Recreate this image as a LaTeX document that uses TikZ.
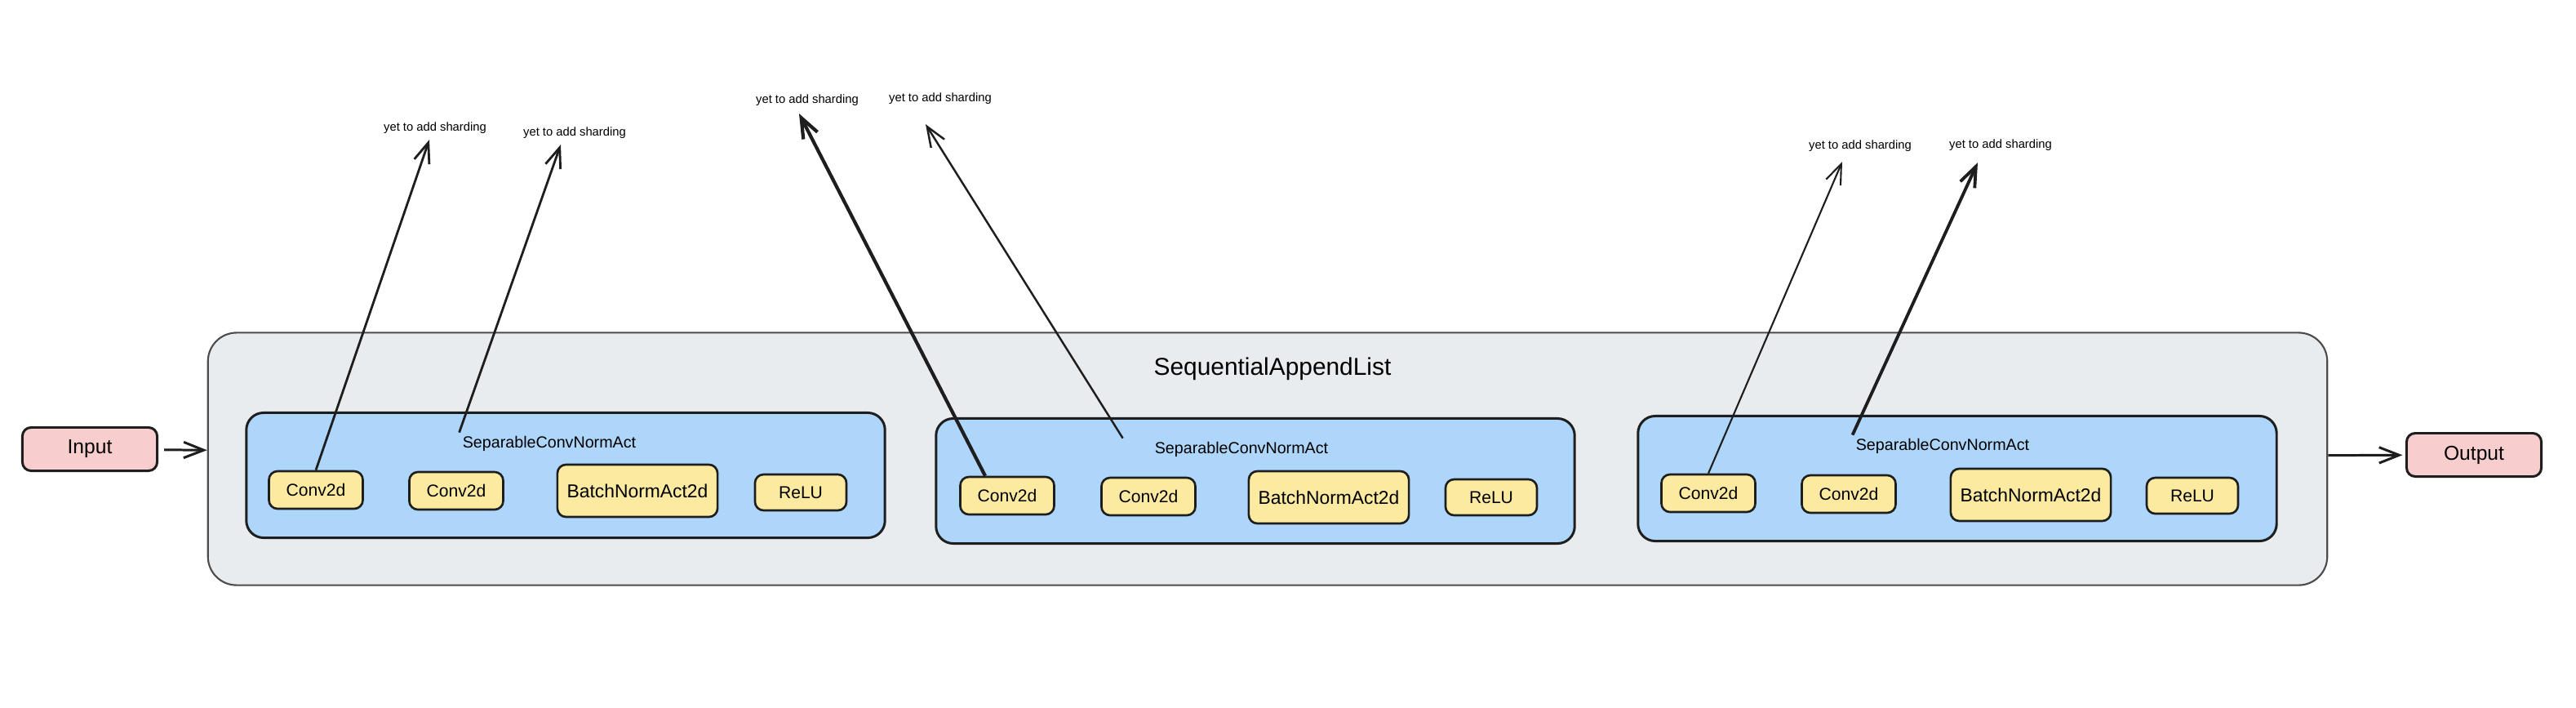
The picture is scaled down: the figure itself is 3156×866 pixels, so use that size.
\documentclass[tikz,border=0pt]{standalone}
\usepackage{fontspec}
\setmainfont{Liberation Sans}
\usetikzlibrary{arrows.meta}
\tikzset{>={Straight Barb[length=7pt, width=5.5pt]}}
\definecolor{colorink}{RGB}{30,30,30}
\definecolor{colorpink}{RGB}{247,205,205}
\definecolor{colorblue}{RGB}{173,214,250}
\definecolor{coloryellow}{RGB}{251,234,160}
\definecolor{colorgrey}{RGB}{232,236,239}
\def\linethickness{0.85pt}
\tikzset{
    iobox/.style={draw=colorink, fill=colorpink, rounded corners=3pt, line width=\linethickness, minimum width=1.65cm, minimum height=0.53cm, font=\fontsize{7}{8}\selectfont},
    seqbox/.style={draw=colorink!80, fill=colorgrey, rounded corners=10pt, line width=0.6pt, minimum width=25.95cm, minimum height=3.09cm},
    blockbox/.style={draw=colorink, fill=colorblue, rounded corners=6pt, line width=\linethickness, minimum width=7.82cm, minimum height=1.53cm},
    layerbox/.style={draw=colorink, fill=coloryellow, rounded corners=3pt, line width=0.75pt, minimum width=1.15cm, minimum height=0.46cm, font=\fontsize{6}{7}\selectfont},
    normbox/.style={layerbox, minimum width=1.92cm, minimum height=0.64cm, font=\fontsize{6.5}{7.5}\selectfont},
    relubox/.style={layerbox, minimum width=1.12cm, minimum height=0.44cm},
    blocklabel/.style={font=\fontsize{5.6}{6.5}\selectfont, inner sep=1pt},
    notelabel/.style={font=\fontsize{4.2}{5}\selectfont, inner sep=1pt},
    shard/.style={->, draw=colorink, line width=0.8pt},
}

\begin{document}
\begin{tikzpicture}[x=0.01cm, y=-0.01cm]
    \useasboundingbox (0, 0) rectangle (3156, 866);
    \node[iobox] (input) at (110, 550) {Input};
    \node[seqbox] (seq) at (1553, 562) {};
    \node[font=\fontsize{8.5}{10}\selectfont] (seqlabel) at (1559, 452) {SequentialAppendList};
    \node[iobox] (output) at (3031, 557) {Output};
    % first block
    \node[blockbox] (block1) at (693, 582) {};
    \node[blocklabel] (lab1) at (673, 543) {SeparableConvNormAct};
    \node[layerbox] (conv1a) at (387, 600) {Conv2d};
    \node[layerbox] (conv1b) at (559, 601) {Conv2d};
    \node[normbox] (norm1) at (781, 601) {BatchNormAct2d};
    \node[relubox] (relu1) at (981, 603) {ReLU};
    % second block
    \node[blockbox] (block2) at (1538, 589) {};
    \node[blocklabel] (lab2) at (1521, 550) {SeparableConvNormAct};
    \node[layerbox] (conv2a) at (1234, 607) {Conv2d};
    \node[layerbox] (conv2b) at (1407, 608) {Conv2d};
    \node[normbox] (norm2) at (1628, 609) {BatchNormAct2d};
    \node[relubox] (relu2) at (1827, 609) {ReLU};
    % third block
    \node[blockbox] (block3) at (2398, 586) {};
    \node[blocklabel] (lab3) at (2380, 546) {SeparableConvNormAct};
    \node[layerbox] (conv3a) at (2093, 604) {Conv2d};
    \node[layerbox] (conv3b) at (2265, 605) {Conv2d};
    \node[normbox] (norm3) at (2488, 606) {BatchNormAct2d};
    \node[relubox] (relu3) at (2686, 607) {ReLU};
    % notes
    \node[notelabel] (note1) at (533, 157) {yet to add sharding};
    \node[notelabel] (note2) at (704, 163) {yet to add sharding};
    \node[notelabel] (note3) at (989, 123) {yet to add sharding};
    \node[notelabel] (note4) at (1152, 121) {yet to add sharding};
    \node[notelabel] (note5) at (2279, 179) {yet to add sharding};
    \node[notelabel] (note6) at (2451, 178) {yet to add sharding};
    \draw[->, colorink, line width=\linethickness, shorten <=2pt] (input) -- (seq);
    \draw[->, colorink, line width=\linethickness, shorten >=1pt] (seq) -- (output);
    \draw[shard] (conv1a.north) -- ([xshift=-0.07cm, yshift=-0.03cm]note1.south);
    \draw[shard] (lab1.north west) -- ([xshift=-0.17cm, yshift=-0.03cm]note2.south);
    \draw[shard, line width=1.2pt] ([xshift=-0.27cm]conv2a.north) -- ([xshift=-0.1cm, yshift=-0.05cm]note3.south);
    \draw[shard, line width=0.7pt] ([xshift=-0.35cm]lab2.north west) -- ([xshift=-0.18cm, yshift=-0.2cm]note4.south);
    \draw[shard, line width=0.6pt] (conv3a.north) -- ([xshift=-0.22cm, yshift=-0.08cm]note5.south);
    \draw[shard, line width=1.1pt] (lab3.north west) -- ([xshift=-0.28cm, yshift=-0.1cm]note6.south);
\end{tikzpicture}
\end{document}
